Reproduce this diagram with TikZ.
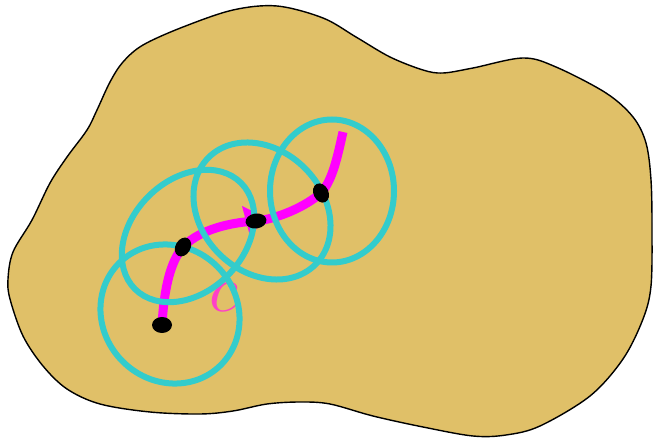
\documentclass[tikz,border=0pt]{standalone}
\usetikzlibrary{calc}
\definecolor{tan}{HTML}{E0C068}
\definecolor{cy}{HTML}{33CCCC}
\definecolor{mag}{HTML}{FF00FF}
\definecolor{pinkc}{HTML}{FF40C8}
\tikzset{
  blob/.style={fill=tan, draw=black, line width=1.4pt},
  ring/.style={draw=cy, line width=6pt},
  curve/.style={draw=mag, line width=9pt},
  dot/.style={fill=black},
}
\begin{document}
\begin{tikzpicture}[x=1pt,y=1pt]
\useasboundingbox (0,0) rectangle (653,439);
\draw[blob] plot[smooth cycle, tension=0.55] coordinates {
(277,433) (233,429) (183,412) (143,394) (123,377) (110,357) (97,329) (87,309)
(67,282) (50,256) (32,219) (13,187) (8,160) (10,140) (23,103) (43,73) (67,50)
(100,35) (150,27) (200,25) (233,28) (267,35) (300,37) (330,35) (373,23) (423,12)
(473,3) (506,4) (540,13) (590,43) (623,80) (643,120) (651,153) (652,209)
(651,259) (646,296) (633,322) (606,346) (556,372) (523,381) (473,371) (443,366)
(423,369) (390,382) (356,402) (323,421)};
\coordinate (d1) at (162,114);
\coordinate (d2) at (183,192);
\coordinate (d3) at (256,218);
\coordinate (d4) at (321,246);
\coordinate (e) at (343,307);
\draw[curve] (d1) .. controls (164,149) and (170,177) .. (d2)
  .. controls (196,206) and (222,216) .. (d3)
  .. controls (277,220) and (305,232) .. (d4)
  .. controls (333,259) and (338,285) .. (e);
\fill[mag] (242,233) -- (250,203) -- (266,221) -- cycle;
\node[text=pinkc, inner sep=0pt, scale=6.6] (lab) at (224,142) {$c$};
\draw[ring, rotate around={-45:(170,125)}] (170,125) ellipse [x radius=72, y radius=67];
\draw[ring, rotate around={45:(188,203)}] (188,203) ellipse [x radius=75, y radius=56];
\draw[ring, rotate around={-45:(262,228)}] (262,228) ellipse [x radius=75.6, y radius=60.6];
\draw[ring] (332,248) ellipse [x radius=62, y radius=71.5];
\fill[dot] (d1) ellipse [x radius=10, y radius=8];
\fill[dot, rotate around={60:(d2)}] (d2) ellipse [x radius=10, y radius=7.5];
\fill[dot, rotate around={8:(d3)}] (d3) ellipse [x radius=10.5, y radius=7.5];
\fill[dot, rotate around={-65:(d4)}] (d4) ellipse [x radius=10, y radius=7.5];
\end{tikzpicture}
\end{document}
